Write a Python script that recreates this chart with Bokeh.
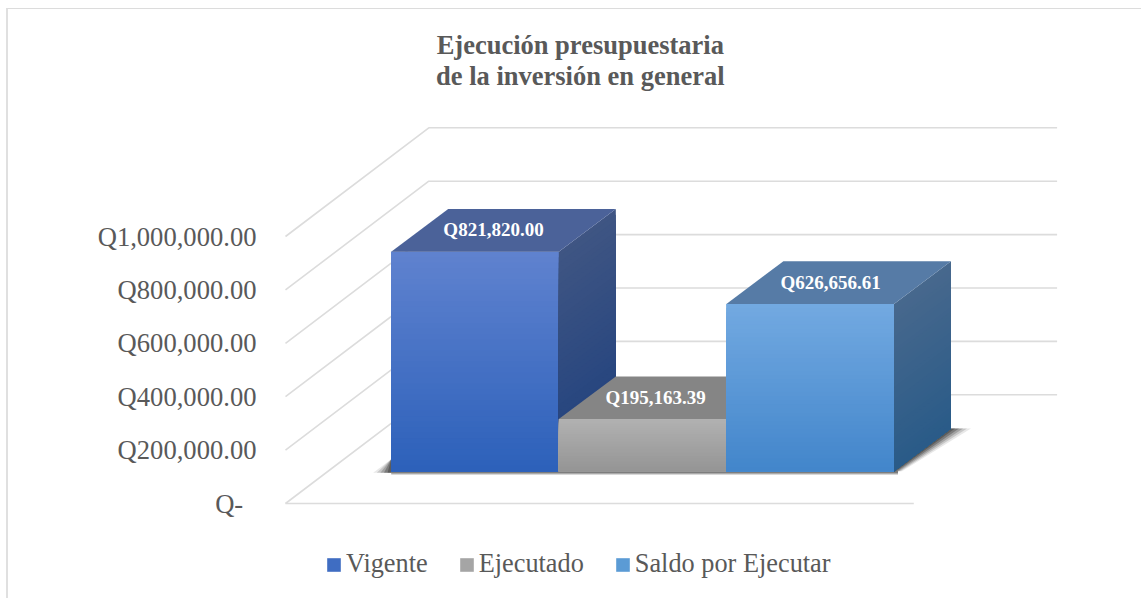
from bokeh.plotting import figure
from bokeh.models import Range1d, Legend, LegendItem, FixedTicker
from bokeh.core.properties import value
from bokeh.embed import file_html
from bokeh.resources import INLINE

# ---- data ----
categories = ["Vigente", "Ejecutado", "Saldo por Ejecutar"]
amounts = [821820.00, 195163.39, 626656.61]
amount_labels = ["Q821,820.00", "Q195,163.39", "Q626,656.61"]
tick_values = [0, 200000, 400000, 600000, 800000, 1000000]
tick_labels = ["Q-\u00a0\u00a0", "Q200,000.00", "Q400,000.00", "Q600,000.00", "Q800,000.00", "Q1,000,000.00"]
title_text = "Ejecución presupuestaria\nde la inversión en general"

# ---- styles: (front top, front bottom, side top, side bottom, top face, swatch) ----
palette = [
    ("#5f82cf", "#2d61ba", "#3f5583", "#21427e", "#4b6299", "#3f6dc2"),
    ("#b1b1b1", "#959595", "#777777", "#666666", "#858585", "#a5a5a5"),
    ("#72a9e1", "#4386cb", "#47688d", "#2a5b88", "#567ba6", "#5b9bd5"),
]
GRID = "#dcdcdc"
TEXT = "#595959"
SERIF = "Liberation Serif"

# ---- layout, page pixels ----
W, H = 1135, 590
FRAME_L, FRAME_R, FRAME_T, FRAME_B = 262, 1143, 9, 599
BAR_PX = 167.6           # width of a bar
Y_PX = 267.0 / 1e6       # pixels per quetzal
ORIGIN_X, ORIGIN_Y = 390.7, 503  # first bar's left edge, front floor line


def ux(px):  # pixel distance -> x units
    return px / BAR_PX


def uy(px):  # pixel distance -> y units
    return px / Y_PX


x_range = Range1d(ux(FRAME_L - ORIGIN_X), ux(FRAME_R - ORIGIN_X))
y_range = Range1d(uy(ORIGIN_Y - FRAME_B), uy(ORIGIN_Y - FRAME_T))

p = figure(width=W, height=H, x_range=x_range, y_range=y_range,
           output_backend="svg", toolbar_location=None,
           min_border_left=FRAME_L - 8, min_border_right=0,
           min_border_top=0, min_border_bottom=0, outline_line_color=None,
           background_fill_color="white", border_fill_color="white")
p.styles = {"margin-left": "6px", "margin-top": "8px",
            "border-left": "2px solid #e0e0e0", "border-top": "1px solid #dcdcdc"}
p.xaxis.visible = False
p.xgrid.visible = False
p.ygrid.visible = False

ax = p.yaxis[0]
ax.ticker = FixedTicker(ticks=tick_values)
ax.major_label_overrides = dict(zip(tick_values, tick_labels))
ax.axis_line_color = None
ax.major_tick_line_color = None
ax.minor_tick_line_color = None
ax.major_label_standoff = 0
ax.major_label_text_font = SERIF
ax.major_label_text_font_size = "26.6px"
ax.major_label_text_color = TEXT

# ---- walls and floor ----
wall_x0 = ux(285 - ORIGIN_X)
wall_w = ux(628.3)
wall_dx, wall_dy = ux(143.3), uy(108.7)
xs, ys = [], []
for v in tick_values:
    xs.append([wall_x0, wall_x0 + wall_dx, wall_x0 + wall_dx + wall_w])
    ys.append([v, v + wall_dy, v + wall_dy])
p.multi_line(xs, ys, line_color=GRID, line_width=1.6)
p.line([wall_x0, wall_x0 + wall_w], [0, 0], line_color=GRID, line_width=1.6)

# ---- bars ----
base = uy(32.3)
dx, dy = ux(57), uy(42.7)
n = len(amounts)


def mix(a, b, t):
    ca = [int(a[i:i + 2], 16) for i in (1, 3, 5)]
    cb = [int(b[i:i + 2], 16) for i in (1, 3, 5)]
    return "#%02x%02x%02x" % tuple(round(u + (w - u) * t) for u, w in zip(ca, cb))


# soft floor shadow
for t, a in [(1.0, 0.10), (0.8, 0.16), (0.6, 0.22), (0.4, 0.30), (0.2, 0.35)]:
    ext = ux(20) * t
    p.patch([n, n + ux(8) * t, n + dx + ext, n + dx],
            [base, base, base + dy, base + dy],
            fill_color="#222222", fill_alpha=a, line_color=None)
    left = -ux(18) * t
    p.patch([0, left, 0], [base - uy(1.5), base - uy(1.5), base + uy(12)],
            fill_color="#222222", fill_alpha=a, line_color=None)
for h, a in [(3.5, 0.25), (2.5, 0.3), (1.5, 0.4)]:
    p.quad(left=[0], right=[n + ux(4)], top=[base], bottom=[base - uy(h)],
           fill_color="#333333", fill_alpha=a, line_color=None)

legend_items = []
for i, (amount, name, c) in enumerate(zip(amounts, categories, palette)):
    top = base + amount
    r = p.quad(left=[i], right=[i + 1], top=[top], bottom=[base], fill_color=c[5], line_color=None)
    legend_items.append(LegendItem(label=name, renderers=[r]))
    steps = 40
    levels = [top - amount * k / steps for k in range(steps)]
    p.quad(left=[i] * steps, right=[i + 1] * steps, top=levels, bottom=[base] * steps,
           fill_color=[mix(c[0], c[1], k / (steps - 1)) for k in range(steps)], line_color=None)
    p.patches([[i + 1, i + 1 + dx, i + 1 + dx, i + 1] for _ in levels],
              [[base, base + dy, lv + dy, lv] for lv in levels],
              fill_color=[mix(c[2], c[3], k / (steps - 1)) for k in range(steps)], line_color=None)
    p.patch([i, i + dx, i + 1 + dx, i + 1], [top, top + dy, top + dy, top],
            fill_color=c[4], line_color=None)

# ---- data labels, centred on the top faces ----
shift = [ux(-10), ux(-15.5), ux(-8)]
p.text([i + 0.5 + dx / 2 + shift[i] for i in range(n)],
       [base + a + dy / 2 + uy(0.5) for a in amounts],
       text=amount_labels, text_color="white", text_align="center", text_baseline="middle",
       text_font=value(SERIF), text_font_style="bold", text_font_size="19px")

# ---- title ----
p.text([ux(579.8 - ORIGIN_X)], [uy(ORIGIN_Y - 60)], text=[title_text], text_color=TEXT,
       text_align="center", text_baseline="middle", text_font=value(SERIF),
       text_font_style="bold", text_font_size="26.5px", text_line_height=1.03)

# ---- legend ----
legend = Legend(items=legend_items, orientation="horizontal", location=(63, 20),
                background_fill_alpha=0, border_line_color=None,
                glyph_width=17, glyph_height=17, label_standoff=4, spacing=30,
                label_text_font=SERIF, label_text_font_size="26.3px", label_text_color=TEXT,
                margin=0, padding=0)
p.add_layout(legend, "center")

open("out.html", "w").write(file_html(p, INLINE))
